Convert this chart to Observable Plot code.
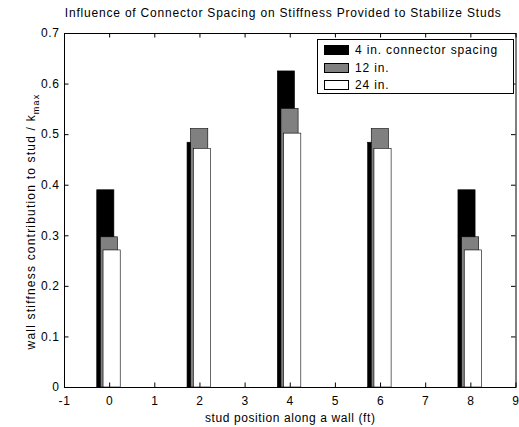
<!DOCTYPE html>
<html><head><meta charset="utf-8">
<script src="https://cdn.jsdelivr.net/npm/d3@7"></script>
<script src="https://cdn.jsdelivr.net/npm/@observablehq/plot@0.6"></script>
<style>
body{margin:0;background:#fff;}
#wrap{position:relative;width:519px;height:427px;font-family:"Liberation Sans",Arial,sans-serif;}
#wrap svg{position:absolute;left:0;top:0;}
.legend{position:absolute;left:317px;top:39px;width:195px;height:53px;border:1px solid #000;background:#fff;font-size:12px;letter-spacing:0.85px;}
.item{position:absolute;left:6px;height:12px;line-height:12px;white-space:nowrap;}
.sw{display:inline-block;width:25px;height:10px;border:1px solid #000;box-sizing:border-box;vertical-align:top;margin-top:1px;margin-right:6px;}
</style>
</head><body>
<div id="wrap"></div>
<script>
const title = "Influence of Connector Spacing on Stiffness Provided to Stabilize Studs";
const xLabel = "stud position along a wall (ft)";
const yLabelMain = "wall stiffness contribution to stud / k";
const yLabelSub = "max";
const positions = [0, 2, 4, 6, 8];
const seriesNames = ["4 in. connector spacing", "12 in.", "24 in."];
const spacing4 = [0.390, 0.484, 0.625, 0.484, 0.390];
const spacing12 = [0.297, 0.511, 0.551, 0.511, 0.297];
const spacing24 = [0.271, 0.472, 0.502, 0.472, 0.271];
const xTicks = [-1, 0, 1, 2, 3, 4, 5, 6, 7, 8, 9];
const yTicks = [0, 0.1, 0.2, 0.3, 0.4, 0.5, 0.6, 0.7];

const colors = ["#000000", "#808080", "#ffffff"];
const offsets = [-0.085, -0.005, 0.055];
const barW = 0.38;
const seriesValues = [spacing4, spacing12, spacing24];

const W = 519, H = 427, mL = 64, mR = 3.5, mT = 33, mB = 40;
const plotH = H - mT - mB, plotW = W - mL - mR, tk = 4.5;
const font = "Liberation Sans, Arial, sans-serif";

const barMarks = seriesValues.map((vals, si) => {
  const rows = positions.map((p, i) => ({x1: p + offsets[si] - barW / 2, x2: p + offsets[si] + barW / 2, y: vals[i]}));
  return Plot.rectY(rows, {x1: "x1", x2: "x2", y: "y", fill: colors[si], stroke: "#000", strokeWidth: 0.6});
});

const chart = Plot.plot({
  width: W, height: H,
  marginLeft: mL, marginRight: mR, marginTop: mT, marginBottom: mB,
  style: {fontFamily: font, fontSize: "12px", background: "#fff", letterSpacing: "0.6px"},
  x: {domain: [-1, 9]},
  y: {domain: [0, 0.7]},
  marks: [
    ...barMarks,
    Plot.axisX({ticks: xTicks, tickSize: 0, tickPadding: 9, tickFormat: d => String(d), label: null, fontSize: 12}),
    Plot.axisY({ticks: yTicks, tickSize: 0, tickPadding: 5, tickFormat: d => String(d), label: null, fontSize: 12}),
    Plot.ruleX(xTicks, {x: d => d, insetTop: plotH - tk, stroke: "#000"}),
    Plot.ruleX(xTicks, {x: d => d, insetBottom: plotH - tk, stroke: "#000"}),
    Plot.ruleY(yTicks, {y: d => d, insetRight: plotW - tk, stroke: "#000"}),
    Plot.ruleY(yTicks, {y: d => d, insetLeft: plotW - tk, stroke: "#000"}),
    Plot.frame({stroke: "#000"}),
    Plot.text([title], {frameAnchor: "top", dx: -7, dy: -20, lineAnchor: "middle", textAnchor: "middle", fontSize: 12}),
    Plot.text([xLabel], {frameAnchor: "bottom", dy: 31, lineAnchor: "middle", textAnchor: "middle", fontSize: 12}),
    Plot.text([yLabelMain], {frameAnchor: "left", dx: -33, dy: 11, rotate: -90, lineAnchor: "middle", textAnchor: "middle", fontSize: 12})
  ]
});

d3.select(chart).selectAll("text").filter(function() { return this.textContent === yLabelMain; })
  .style("letter-spacing", "1.2px")
  .append("tspan").attr("dy", "0.35em").attr("font-size", "9px").text(yLabelSub);
d3.select(chart).selectAll("text").filter(function() { return this.textContent === title; })
  .style("letter-spacing", "0.8px");

const wrap = document.getElementById("wrap");
wrap.appendChild(chart);

const legend = document.createElement("div");
legend.className = "legend";
const rowTops = [4, 21.5, 39];
seriesNames.forEach((name, i) => {
  const it = document.createElement("div");
  it.className = "item";
  it.style.top = rowTops[i] + "px";
  const sw = document.createElement("span");
  sw.className = "sw";
  sw.style.background = colors[i];
  it.appendChild(sw);
  it.appendChild(document.createTextNode(name));
  legend.appendChild(it);
});
wrap.appendChild(legend);
</script>
</body></html>
